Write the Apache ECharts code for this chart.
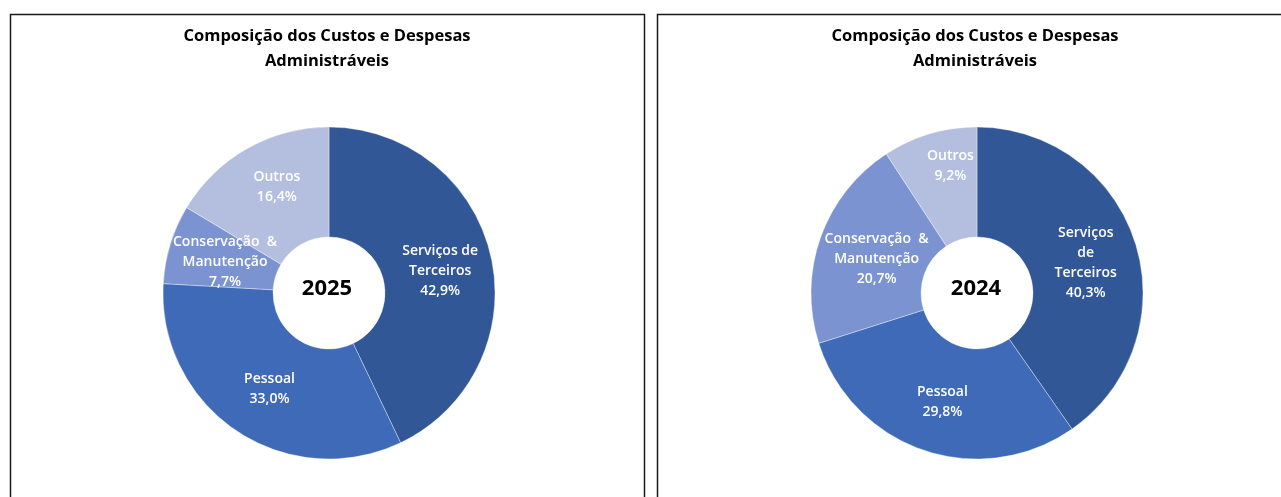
<!DOCTYPE html>
<html>
<head>
<meta charset="utf-8">
<script src="https://cdn.jsdelivr.net/npm/echarts@6/dist/echarts.min.js"></script>
<style>
html,body{margin:0;padding:0;background:#fff;}
#c{width:1281px;height:497px;}
</style>
</head>
<body>
<div id="c"></div>
<script>
const categories = ['Serviços de Terceiros', 'Pessoal', 'Conservação & Manutenção', 'Outros'];
const labels2025 = ['Serviços de\nTerceiros', 'Pessoal', 'Conservação  &\nManutenção', 'Outros'];
const labels2024 = ['Serviços\nde\nTerceiros', 'Pessoal', 'Conservação  &\nManutenção', 'Outros'];
const values2025 = [42.9, 33.0, 7.7, 16.4];
const values2024 = [40.3, 29.8, 20.7, 9.2];
const years = ['2025', '2024'];
const titleText = 'Composição dos Custos e Despesas\nAdministráveis';
const colors = ['#325797', '#3e6ab7', '#7b94d1', '#b4bfe0'];

// label nudges (style only, mimic Excel best-fit placement)
const nudge2025 = [[0, 3], [4, 1], [5, 3], [4, -7]];
const nudge2024 = [[0, 4], [2, 1], [7, 4], [6, -18]];

const FONT = 'Open Sans';

function buildData(vals, labs, nudges) {
  return vals.map((v, i) => ({
    value: v,
    name: categories[i],
    labelText: labs[i],
    itemStyle: { color: colors[i] },
    label: { offset: nudges[i] }
  }));
}

function pieSeries(vals, labs, nudges, cx) {
  return {
    type: 'pie',
    center: [cx, 293],
    radius: [56, 166],
    startAngle: 90,
    clockwise: true,
    avoidLabelOverlap: false,
    silent: true,
    itemStyle: { borderColor: 'rgba(255,255,255,0.45)', borderWidth: 0.8 },
    label: {
      show: true,
      position: 'inside',
      color: '#ffffff',
      fontFamily: FONT,
      fontSize: 14,
      fontWeight: 600,
      lineHeight: 20,
      align: 'center',
      formatter: p => p.data.labelText + '\n' + p.value.toFixed(1).replace('.', ',') + '%'
    },
    labelLine: { show: false },
    emphasis: { disabled: true },
    data: buildData(vals, labs, nudges)
  };
}

function textEl(txt, x, y, size, lh) {
  return { type: 'text', x: x, y: y, silent: true,
    style: { text: txt, fontFamily: FONT, fontSize: size, fontWeight: 'bold',
      fill: '#000', align: 'center', verticalAlign: 'middle', lineHeight: lh } };
}

const chart = echarts.init(document.getElementById('c'), null, { renderer: 'canvas' });
chart.setOption({
  animation: false,
  backgroundColor: '#ffffff',
  graphic: [
    { type: 'rect', shape: { x: 10.5, y: 14.5, width: 634, height: 600 },
      style: { fill: 'none', stroke: '#1a1a1a', lineWidth: 1.5 }, silent: true },
    { type: 'rect', shape: { x: 657.5, y: 14.5, width: 800, height: 600 },
      style: { fill: 'none', stroke: '#1a1a1a', lineWidth: 1.5 }, silent: true },
    textEl(titleText, 327, 49, 16.5, 25),
    textEl(titleText, 975, 49, 16.5, 25),
    textEl(years[0], 327, 289, 22, 26),
    textEl(years[1], 976, 289, 22, 26)
  ],
  series: [
    pieSeries(values2025, labels2025, nudge2025, 329),
    pieSeries(values2024, labels2024, nudge2024, 977)
  ]
});
</script>
</body>
</html>
